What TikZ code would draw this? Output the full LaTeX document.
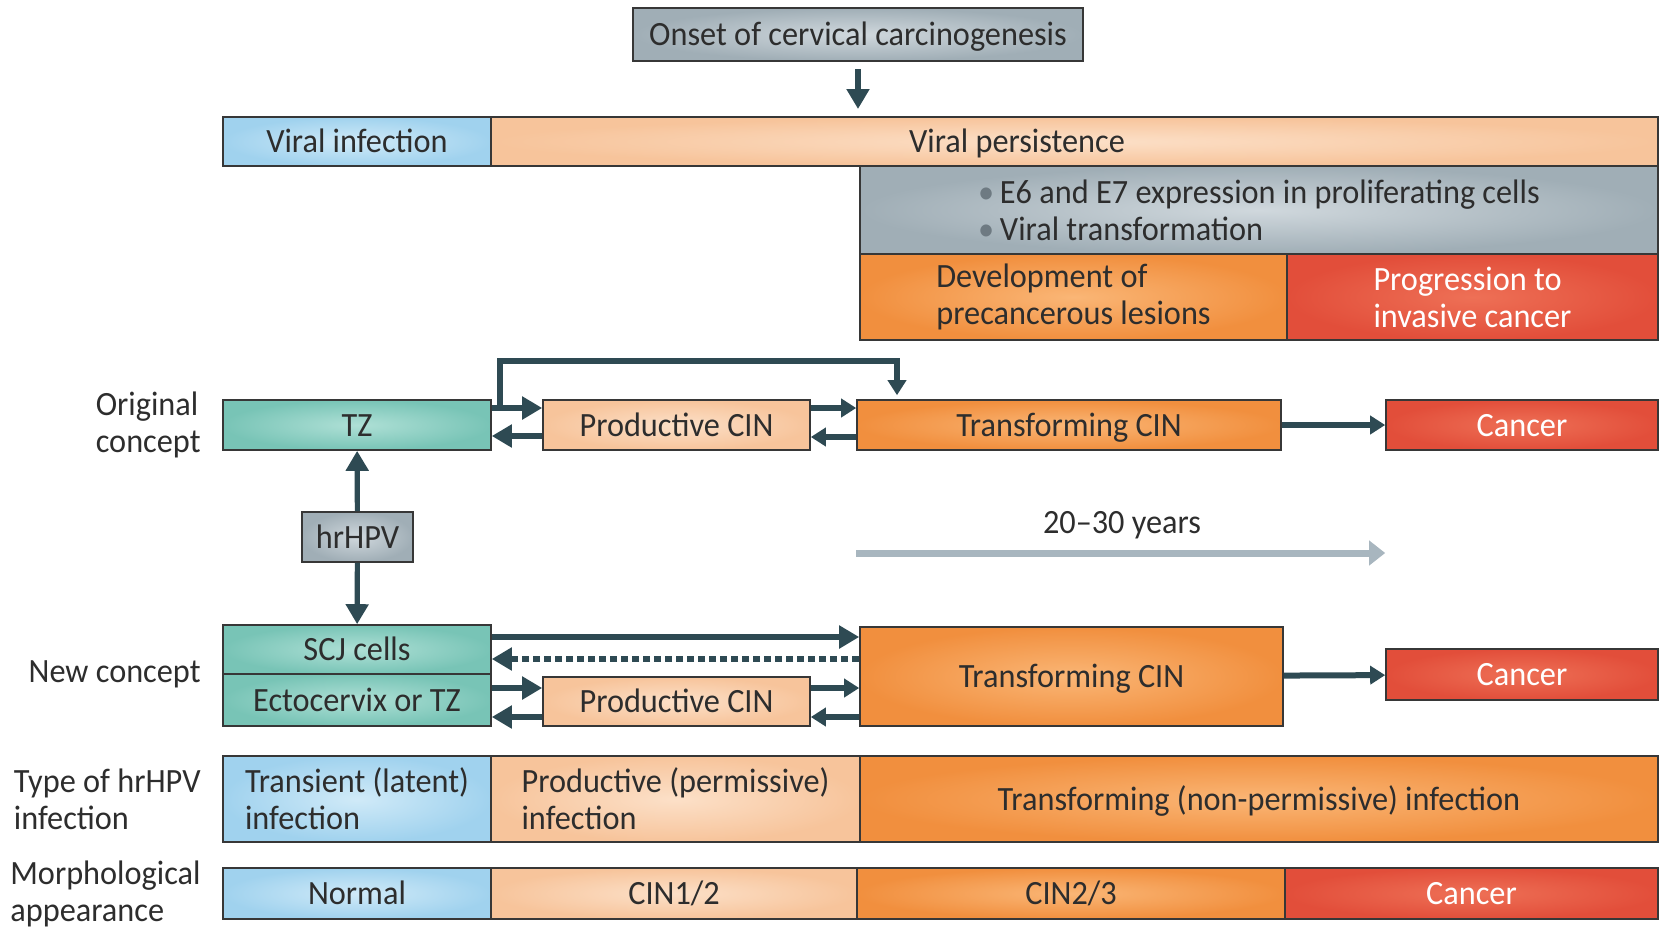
\documentclass[tikz,border=0pt]{standalone}
\usepackage{fontspec}
\setmainfont{Carlito}[FakeStretch=0.95]
\usetikzlibrary{shapes,arrows.meta,positioning}
\definecolor{textdark}{RGB}{45,45,45}
\definecolor{edgedark}{RGB}{55,55,55}
\definecolor{arrowdark}{RGB}{46,74,83}
\definecolor{greyin}{RGB}{208,216,221}
\definecolor{greyout}{RGB}{160,174,182}
\definecolor{bluein}{RGB}{208,234,248}
\definecolor{blueout}{RGB}{160,210,238}
\definecolor{peachin}{RGB}{252,224,200}
\definecolor{peachout}{RGB}{247,196,155}
\definecolor{orangein}{RGB}{250,182,118}
\definecolor{orangeout}{RGB}{241,143,62}
\definecolor{redin}{RGB}{238,112,86}
\definecolor{redout}{RGB}{226,78,58}
\definecolor{tealin}{RGB}{175,224,214}
\definecolor{tealout}{RGB}{120,196,182}
\definecolor{yearsgrey}{RGB}{168,182,191}
\definecolor{bulletgrey}{RGB}{110,122,130}
\tikzstyle{box} = [rectangle, draw=edgedark, line width=0.8pt, inner sep=0pt,
    text=textdark, font=\fontsize{17}{18.5}\selectfont, text height=13pt, text depth=2pt]
\tikzstyle{twoline} = [align=left, text height=, text depth=]
\tikzstyle{plaintext} = [inner sep=0pt, text=textdark, font=\fontsize{17}{18.5}\selectfont]
\tikzstyle{greybox} = [box, inner color=greyin, outer color=greyout]
\tikzstyle{bluebox} = [box, inner color=bluein, outer color=blueout]
\tikzstyle{peachbox} = [box, inner color=peachin, outer color=peachout]
\tikzstyle{orangebox} = [box, inner color=orangein, outer color=orangeout]
\tikzstyle{redbox} = [box, inner color=redin, outer color=redout, text=white]
\tikzstyle{tealbox} = [box, inner color=tealin, outer color=tealout]
\tikzstyle{rowlabel} = [plaintext, anchor=east, align=left]
\tikzstyle{flow} = [draw=arrowdark, line width=3.2pt, -{Triangle[length=10pt,width=11pt]}]
\tikzstyle{smallflow} = [draw=arrowdark, line width=3pt, -{Triangle[length=7.5pt,width=9pt]}]
\tikzstyle{backflow} = [flow, dash pattern=on 3.5pt off 2pt]
\newcommand{\bul}{{\color{bulletgrey}\textbullet}\,}

\begin{document}
\begin{tikzpicture}[x=0.5pt,y=-0.5pt]
  \useasboundingbox (0,0) rectangle (1660,927);
  % top of the figure
  \node[greybox, minimum width=225pt, minimum height=26.5pt] (onset) at (858,34.5) {Onset of cervical carcinogenesis};
  \node[bluebox, minimum width=134pt, minimum height=24.5pt] (vinf) at (357,141.5) {Viral infection};
  \node[peachbox, minimum width=583.5pt, minimum height=24.5pt] (vpers) at (1074.5,141.5) {};
  \node[plaintext, text height=13pt, text depth=2pt] (vperstext) at (1017,141.5) {Viral persistence};
  \node[greybox, twoline, minimum width=399pt, minimum height=44pt] (e6e7) at (1259,210)
    {\bul E6 and E7 expression in proliferating cells\\\bul Viral transformation};
  \node[orangebox, twoline, minimum width=213.5pt, minimum height=43pt] (devel) at (1073.5,297)
    {Development of\\precancerous lesions};
  \node[redbox, twoline, minimum width=185.5pt, minimum height=43pt] (progr) at (1472.5,297)
    {Progression to\\invasive cancer};
  \draw[flow] (onset.south |- 0,69) -- (onset.south |- 0,109);

  % original concept
  \node[rowlabel] (origlabel) at (201,425) {Original\\concept};
  \node[tealbox, minimum width=134pt, minimum height=25pt] (tz) at (357,425) {TZ};
  \node[peachbox, minimum width=133.5pt, minimum height=25pt] (prodA) at (676.5,425) {Productive CIN};
  \node[orangebox, minimum width=212pt, minimum height=25pt] (transA) at (1069,425) {Transforming CIN};
  \node[redbox, minimum width=136pt, minimum height=25pt] (cancerA) at (1522,425) {Cancer};
  \draw[flow] (tz.east |- 0,408) -- (prodA.west |- 0,408);
  \draw[flow] (prodA.west |- 0,436) -- (tz.east |- 0,436);
  \draw[smallflow] (prodA.east |- 0,408) -- (transA.west |- 0,408);
  \draw[smallflow] (transA.west |- 0,437) -- (prodA.east |- 0,437);
  \draw[smallflow] (transA) -- (cancerA);
  \coordinate (split) at (500,408);
  \draw[smallflow, line width=2.8pt, shorten >=2pt] (split) -- (split |- 0,361) -| ([xshift=-86pt]transA.north);

  % hrHPV in between
  \node[greybox, minimum width=55.5pt, minimum height=25pt] (hrhpv) at (357.5,537) {hrHPV};
  \draw[flow, line width=2.6pt] (hrhpv) -- (tz);
  \node[plaintext] (years) at (1122,525) {20--30 years};
  \draw[draw=yearsgrey, line width=3.5pt, -{Triangle[length=8pt,width=12pt]}]
    (transA.west |- 0,553) -- (cancerA.west |- 0,553);

  % new concept
  \node[rowlabel] (newlabel) at (201,674) {New concept};
  \node[tealbox, minimum width=134pt, minimum height=24.5pt] (scj) at (357,649.5) {SCJ cells};
  \node[tealbox, minimum width=134pt, minimum height=26pt] (ecto) at (357,700) {Ectocervix or TZ};
  \node[peachbox, minimum width=133.5pt, minimum height=24.5pt] (prodB) at (676.5,701.5) {Productive CIN};
  \node[orangebox, minimum width=211.5pt, minimum height=49.5pt] (transB) at (1071.5,676.5) {Transforming CIN};
  \node[redbox, minimum width=136pt, minimum height=25.5pt] (cancerB) at (1522,674.5) {Cancer};
  \draw[flow, line width=2.6pt] (hrhpv) -- (scj);
  \draw[flow] (scj.east |- 0,637) -- (transB.west |- 0,637);
  \draw[backflow] (transB.west |- 0,659) -- (scj.east |- 0,659);
  \draw[flow] (ecto.east |- 0,688) -- (prodB.west |- 0,688);
  \draw[flow] (prodB.west |- 0,717) -- (ecto.east |- 0,717);
  \draw[smallflow] (prodB.east |- 0,688) -- (transB.west |- 0,688);
  \draw[smallflow] (transB.west |- 0,717) -- (prodB.east |- 0,717);
  \draw[smallflow] (transB) -- (cancerB);

  % type of infection
  \node[rowlabel] (typelabel) at (201,799) {Type of hrHPV\\infection};
  \node[bluebox, twoline, minimum width=134pt, minimum height=43pt] (ttrans) at (357,799) {Transient (latent)\\infection};
  \node[peachbox, twoline, minimum width=184.5pt, minimum height=43pt] (tprod) at (675.5,799) {Productive (permissive)\\infection};
  \node[orangebox, minimum width=399pt, minimum height=43pt] (ttransf) at (1259,799) {Transforming (non-permissive) infection};

  % morphology
  \node[rowlabel] (morphlabel) at (201,893.5) {Morphological\\appearance};
  \node[bluebox, minimum width=134pt, minimum height=25.5pt] (mnormal) at (357,893.5) {Normal};
  \node[peachbox, minimum width=183pt, minimum height=25.5pt] (mcinA) at (674,893.5) {CIN1/2};
  \node[orangebox, minimum width=214pt, minimum height=25.5pt] (mcinB) at (1071,893.5) {CIN2/3};
  \node[redbox, minimum width=186.5pt, minimum height=25.5pt] (mcancer) at (1471.5,893.5) {Cancer};
\end{tikzpicture}
\end{document}
